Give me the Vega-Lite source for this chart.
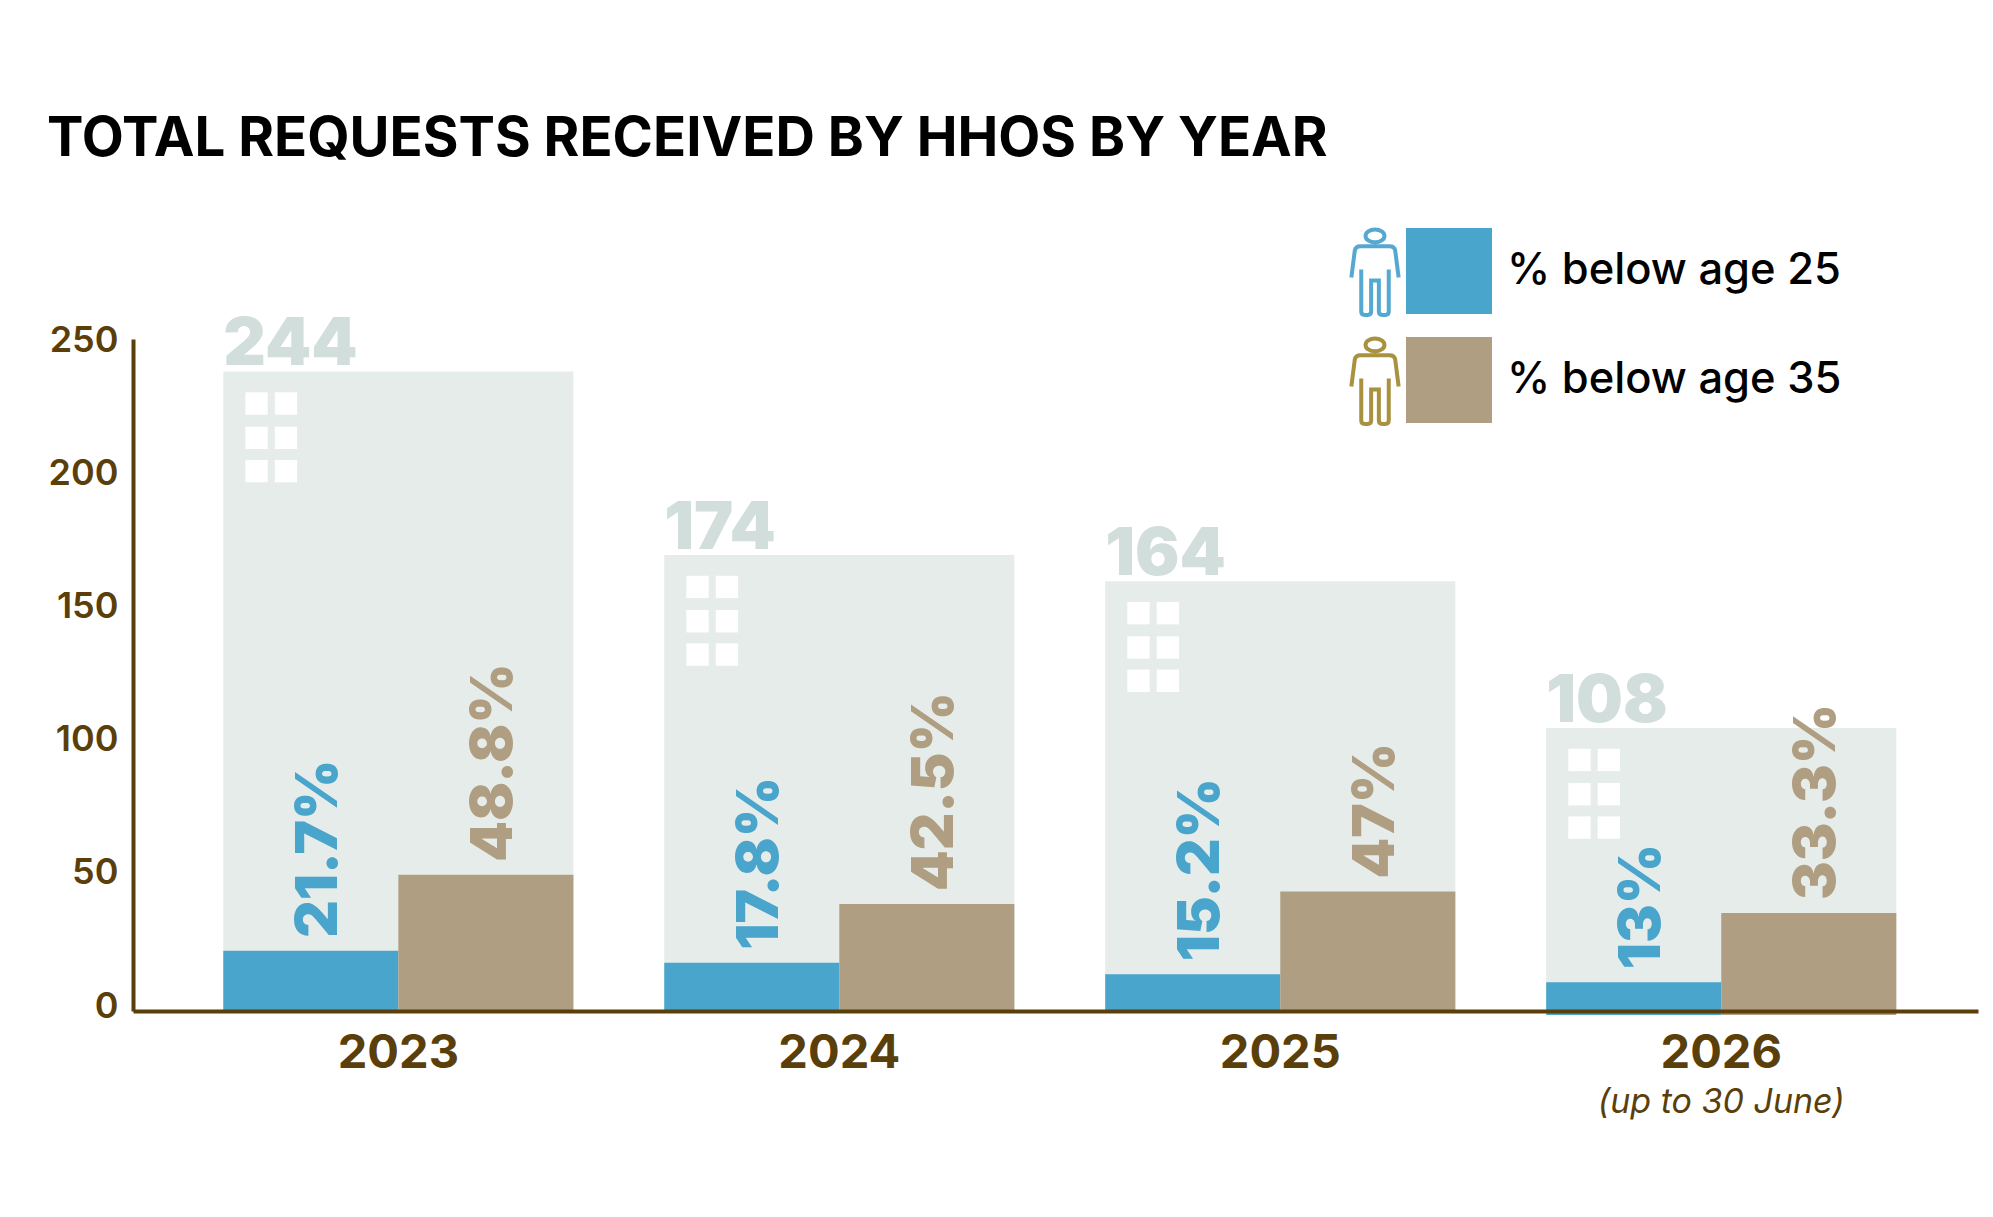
{
"$schema":"https://vega.github.io/schema/vega-lite/v6.json",
"width":1845,"height":672,
"autosize":{"type":"none"},
"padding":{"left":133,"top":339,"right":15,"bottom":206},
"background":"white",
"config":{"view":{"stroke":null},"font":"Inter"},
"title":{"text":"TOTAL REQUESTS RECEIVED BY HHOS BY YEAR","anchor":"start","frame":"group","dx":-86,"offset":59,"font":"Inter","fontSize":54.6,"fontWeight":700,"color":"#000000"},
"datasets":{
"totals":[{"year":"2023","total":244},{"year":"2024","total":174},{"year":"2025","total":164},{"year":"2026","total":108}],
"pct":[
{"year":"2023","group":"% below age 25","icon":"under 25","value":23,"base":0,"label":"21.7%"},
{"year":"2023","group":"% below age 35","icon":"under 35","value":52,"base":0,"label":"48.8%"},
{"year":"2024","group":"% below age 25","icon":"under 25","value":18.4,"base":0,"label":"17.8%"},
{"year":"2024","group":"% below age 35","icon":"under 35","value":40.8,"base":0,"label":"42.5%"},
{"year":"2025","group":"% below age 25","icon":"under 25","value":14,"base":0,"label":"15.2%"},
{"year":"2025","group":"% below age 35","icon":"under 35","value":45.6,"base":0,"label":"47%"},
{"year":"2026","group":"% below age 25","icon":"under 25","value":11,"base":-1.5,"label":"13%"},
{"year":"2026","group":"% below age 35","icon":"under 35","value":37.4,"base":-1.5,"label":"33.3%"}],
"windows":[
{"year":"2023","level":231.8},{"year":"2023","level":218.7},{"year":"2023","level":206},
{"year":"2024","level":161.8},{"year":"2024","level":148.7},{"year":"2024","level":136},
{"year":"2025","level":151.8},{"year":"2025","level":138.7},{"year":"2025","level":126},
{"year":"2026","level":95.8},{"year":"2026","level":82.7},{"year":"2026","level":70}],
"ticks":[{"v":0},{"v":50},{"v":100},{"v":150},{"v":200},{"v":250}],
"note":[{"year":"2026","pos":-35,"note":"(up to 30 June)"}]
},
"layer":[
{"encoding":{
"x":{"field":"year","type":"ordinal","sort":["2023","2024","2025","2026"],
"scale":{"paddingInner":0.206,"paddingOuter":0.195,"align":0.525},
"axis":{"title":null,"labelAngle":0,"ticks":false,"domain":true,"domainColor":"#5a3f0b","domainWidth":4,"labelColor":"#5a3f0b","labelFontSize":47,"labelFontWeight":700,"labelFont":"Inter","labelPadding":19,"zindex":1}}
},
"layer":[
{"data":{"name":"totals"},"mark":{"type":"bar","color":"#e6ecea"},
"encoding":{"y":{"field":"total","type":"quantitative","stack":null,"scale":{"domain":[0,256.4],"nice":false},"axis":null}}},
{"data":{"name":"windows"},"mark":{"type":"square","color":"white","size":500,"opacity":1},
"encoding":{"x":{"field":"year","type":"ordinal","bandPosition":0.095},"y":{"field":"level","type":"quantitative","axis":null}}},
{"data":{"name":"windows"},"mark":{"type":"square","color":"white","size":500,"opacity":1},
"encoding":{"x":{"field":"year","type":"ordinal","bandPosition":0.179},"y":{"field":"level","type":"quantitative","axis":null}}},
{"data":{"name":"totals"},"mark":{"type":"text","align":"left","baseline":"alphabetic","dy":-6,"font":"Inter","fontWeight":900,"fontSize":66,"color":"#d2dedb"},
"encoding":{"x":{"field":"year","type":"ordinal","bandPosition":0},"y":{"field":"total","type":"quantitative","axis":null},"text":{"field":"total"}}},
{"data":{"name":"pct"},"mark":{"type":"bar"},
"encoding":{
"xOffset":{"field":"group","type":"nominal","scale":{"domain":["% below age 25","% below age 35"]}},
"y":{"field":"value","type":"quantitative","stack":null,"axis":null},"y2":{"field":"base"},
"color":{"field":"group","type":"nominal","scale":{"domain":["% below age 25","% below age 35"],"range":["#49a5cb","#af9e81"]},
"legend":{"orient":"none","legendX":1273,"legendY":-111,"title":null,"symbolType":"square","symbolSize":7396,"symbolStrokeWidth":0,"labelFontSize":43.5,"labelFontWeight":500,"labelFont":"Inter","labelColor":"#000000","rowPadding":23,"labelOffset":15,"labelLimit":500,"padding":0}}}},
{"data":{"name":"pct"},"mark":{"type":"point","filled":false,"opacity":0},
"encoding":{
"y":{"field":"value","type":"quantitative","axis":null},
"stroke":{"field":"icon","type":"nominal","scale":{"domain":["under 25","under 35"],"range":["#55a9d0","#a8913f"]},
"legend":{"orient":"none","legendX":1197,"legendY":-112,"title":null,"symbolOpacity":1,"symbolFillColor":"transparent","symbolStrokeWidth":4,"symbolSize":7396,"rowPadding":7,"labelExpr":"''","labelFontSize":1,"labelOffset":0,"padding":0,
"symbolType":"M0.22,-0.84 A0.22,0.15 0 1 1 -0.22,-0.84 A0.22,0.15 0 1 1 0.22,-0.84 Z M-0.55,0.13 L-0.47,-0.5 Q-0.45,-0.6 -0.34,-0.6 L0.34,-0.6 Q0.45,-0.6 0.47,-0.5 L0.55,0.13 M-0.32,-0.06 L-0.32,0.92 Q-0.32,1 -0.24,1 L-0.17,1 Q-0.09,1 -0.09,0.92 L-0.09,0.2 L0.09,0.2 L0.09,0.92 Q0.09,1 0.17,1 L0.24,1 Q0.32,1 0.32,0.92 L0.32,-0.06"}}}},
{"data":{"name":"pct"},"mark":{"type":"text","angle":270,"align":"left","baseline":"middle","dx":13,"dy":9,"font":"Inter","fontWeight":900,"fontSize":58},
"encoding":{
"xOffset":{"field":"group","type":"nominal","scale":{"domain":["% below age 25","% below age 35"]}},
"y":{"field":"value","type":"quantitative","axis":null},
"text":{"field":"label"},
"color":{"field":"group","type":"nominal","scale":{"domain":["% below age 25","% below age 35"],"range":["#49a5cb","#a9946f"]},"legend":null}}},
{"data":{"name":"note"},"mark":{"type":"text","font":"Inter","fontStyle":"italic","fontWeight":400,"fontSize":34,"color":"#5a3f0b"},
"encoding":{"y":{"field":"pos","type":"quantitative","axis":null},"text":{"field":"note"}}}
]},
{"data":{"name":"ticks"},"mark":{"type":"tick","opacity":0},
"encoding":{"y":{"field":"v","type":"quantitative","scale":{"domain":[-2.4,250],"nice":false,"zero":false},
"axis":{"title":null,"values":[0,50,100,150,200,250],"grid":false,"ticks":false,"domain":true,"domainColor":"#5a3f0b","domainWidth":4,"labelColor":"#5a3f0b","labelFontSize":36,"labelFontWeight":600,"labelFont":"Inter","labelPadding":15,"labelOffset":1.5,"zindex":1}}}}
],
"resolve":{"scale":{"y":"independent","color":"independent"}}
}
